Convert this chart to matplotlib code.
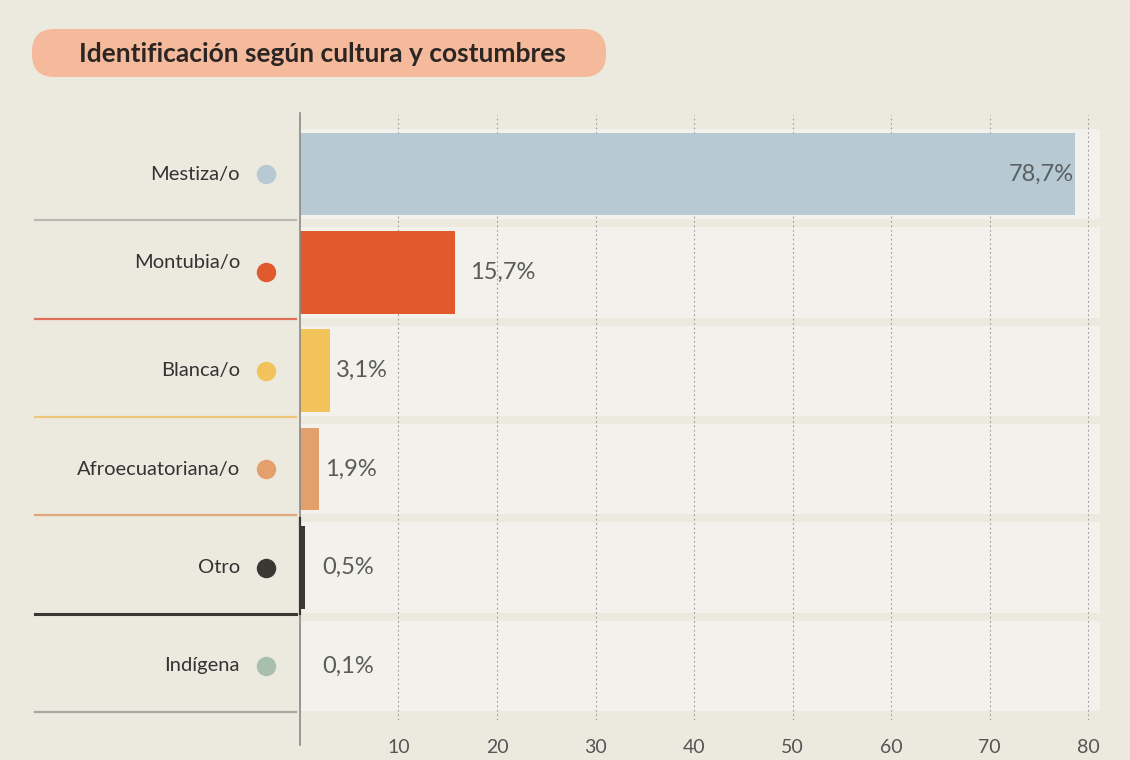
import matplotlib
matplotlib.use("Agg")
import matplotlib.pyplot as plt
from matplotlib.patches import FancyBboxPatch, Rectangle
import matplotlib.transforms as mtransforms

plt.rcParams['font.family'] = ['Lato', 'DejaVu Sans']

# datos
categorias = ['Mestiza/o', 'Montubia/o', 'Blanca/o', 'Afroecuatoriana/o', 'Otro', 'Indígena']
valores = [78.7, 15.7, 3.1, 1.9, 0.5, 0.1]
etiquetas = ['78,7%', '15,7%', '3,1%', '1,9%', '0,5%', '0,1%']
colores = ['#b7cad3', '#e05a2e', '#f2c35b', '#e3a06c', '#3b3733', '#a9bfae']
lineas = ['#b9b9b2', '#e0705a', '#efc77a', '#dfa77a', '#3b3733', '#a8a8a0']
ticks = [10, 20, 30, 40, 50, 60, 70, 80]

fondo = '#ece9df'
fig = plt.figure(figsize=(11.3, 7.6), dpi=100, facecolor=fondo)

W, H = 1130, 760
ax = fig.add_axes([296 / W, 1 - 720 / H, (1100 - 296) / W, (720 - 115) / H])
ax.set_facecolor('none')
ax.set_xlim(-0.4, 81.2)
ax.set_ylim(5.55, -0.6)

# bandas claras de cada fila
for i in range(len(categorias)):
    ax.add_patch(Rectangle((0, i - 0.46), 81.2, 0.92, facecolor='#f3f1ec',
                           edgecolor='none', zorder=0))

# rejilla punteada
for t in ticks:
    ax.axvline(t, color='#9a9a96', lw=0.8, ls=(0, (1.5, 2.5)), zorder=1)

ax.barh(range(len(valores)), valores, height=0.84, color=colores, zorder=2)

for i, (v, e) in enumerate(zip(valores, etiquetas)):
    if v > 50:
        ax.text(v - 0.2, i, e, ha='right', va='center', fontsize=17, color='#5a5f62', zorder=3)
    else:
        ax.text(max(v + 0.6, 2.3) if v < 10 else v + 1.6, i, e, ha='left', va='center',
                fontsize=17, color='#5a5a58', zorder=3)

# eje vertical
ax.plot([0, 0], [-0.62, 5.8], color='#8a8a86', lw=1.2, clip_on=False, zorder=3)
ax.plot([0, 0], [3.5, 4.47], color='#3b3733', lw=1.6, clip_on=False, zorder=4)

# etiquetas, puntos y líneas a la izquierda
trans = mtransforms.blended_transform_factory(ax.transAxes, ax.transData)
x_lab = (240 - 296) / 804
x_dot = (266 - 296) / 804
x_lin0 = (35 - 296) / 804
for i, cat in enumerate(categorias):
    dy = -0.1 if cat == 'Montubia/o' else 0
    ax.text(x_lab, i + dy, cat, transform=trans, ha='right', va='center',
            fontsize=14.5, color='#333333', clip_on=False)
    ax.plot([x_dot], [i], marker='o', ms=14, color=colores[i], transform=trans,
            clip_on=False, markeredgewidth=0)
    lw = 2.2 if cat == 'Otro' else 1.6
    ax.plot([x_lin0, 0], [i + 0.47, i + 0.47], color=lineas[i], lw=lw,
            transform=trans, clip_on=False)

ax.set_xticks(ticks)
ax.set_xticklabels([str(t) for t in ticks], fontsize=14, color='#555555')
ax.tick_params(axis='x', length=0, pad=14)
ax.set_yticks([])
for s in ax.spines.values():
    s.set_visible(False)

# título en caja redondeada
caja = FancyBboxPatch((32 / W, 1 - 77 / H), (606 - 32) / W, 48 / H,
                      boxstyle='round,pad=0,rounding_size=0.02',
                      transform=fig.transFigure, facecolor='#f5b99b',
                      edgecolor='none', mutation_aspect=W / H)
fig.patches.append(caja)
fig.text(322 / W, 1 - 54 / H, 'Identificación según cultura y costumbres',
         ha='center', va='center', fontsize=19, fontweight='bold', color='#2b2623')

fig.savefig('out.png', dpi=100, facecolor=fondo)
